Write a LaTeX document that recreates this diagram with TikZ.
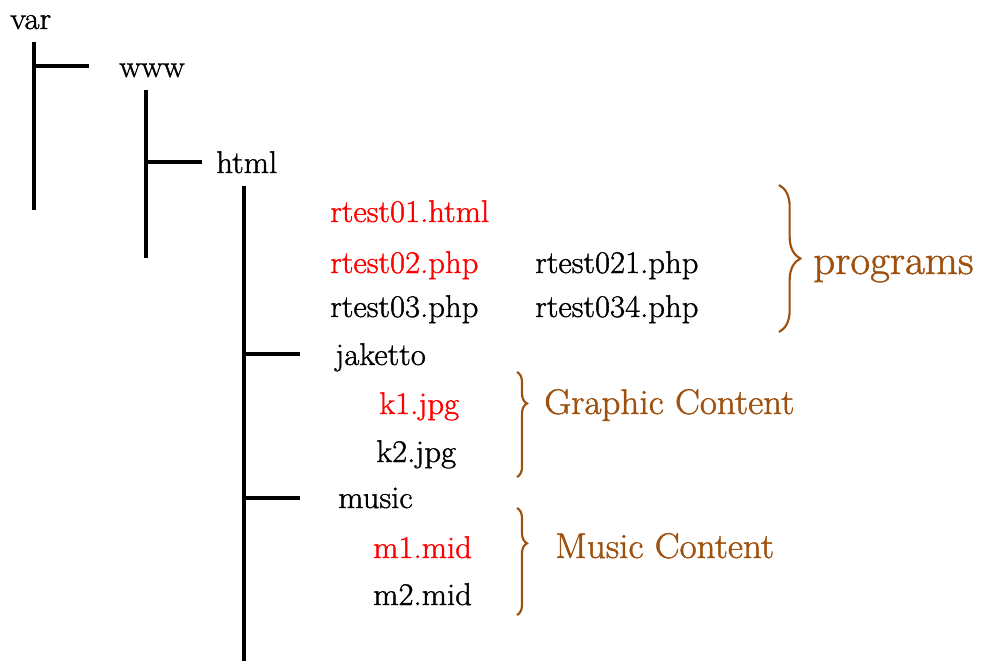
\documentclass[tikz,border=0pt]{standalone}
\usepackage{fontspec}
\usetikzlibrary{decorations.pathreplacing}
\newfontfamily\schoolfont[FakeStretch=1.04,FakeBold=1.2]{Latin Modern Roman}
\definecolor{notebrown}{RGB}{158,80,14}

\begin{document}
\begin{tikzpicture}[x=0.75pt,y=-0.75pt,
    every node/.style={anchor=base west,inner sep=0pt},
    file/.style={font=\schoolfont\fontsize{23.6}{28}\selectfont},
    newfile/.style={file,text=red},
    tree/.style={line width=2.4pt},
    note/.style={font=\schoolfont\fontsize{26.8}{32}\selectfont,text=notebrown},
    group/.style={notebrown,line width=1.6pt,decorate,decoration={brace,amplitude=#1}}]
    \useasboundingbox (0,0) rectangle (982,661);
    \node[file] (var) at (10,29) {var};
    \node[file] (www) at (119,77) {www};
    \node[file] (html) at (216,173) {html};
    \node[newfile] (rtest01) at (330,222) {rtest01.html};
    \node[newfile] (rtest02) at (330,273) {rtest02.php};
    \node[file] (rtest021) at (535,273) {rtest021.php};
    \node[file] (rtest03) at (330,317) {rtest03.php};
    \node[file] (rtest034) at (535,317) {rtest034.php};
    \node[file] (jaketto) at (335,365) {jaketto};
    \node[newfile] (k1) at (379,414) {k1.jpg};
    \node[file] (k2) at (376,462) {k2.jpg};
    \node[file] (music) at (338,508) {music};
    \node[newfile] (m1) at (373,558) {m1.mid};
    \node[file] (m2) at (373,605) {m2.mid};
    \node[note,font=\schoolfont\fontsize{31}{37}\selectfont] (programs) at (813,274) {programs};
    \node[note] (graphic) at (544,414) {Graphic Content};
    \node[note] (musicnote) at (555,558) {Music Content};

    \coordinate (vartop) at (34,42);
    \coordinate (varbot) at (34,210);
    \coordinate (varfork) at (34,66);
    \coordinate (wwwend) at (89,66);
    \coordinate (wwwtop) at (146,90);
    \coordinate (wwwbot) at (146,258);
    \coordinate (wwwfork) at (146,162);
    \coordinate (htmlend) at (202,162);
    \coordinate (htmltop) at (244,186);
    \coordinate (htmlbot) at (244,661);
    \coordinate (jakfork) at (244,354);
    \coordinate (jakend) at (300,354);
    \coordinate (musfork) at (244,498);
    \coordinate (musend) at (300,498);
    \draw[tree] (vartop) -- (varbot);
    \draw[tree] (varfork) -- (wwwend);
    \draw[tree] (wwwtop) -- (wwwbot);
    \draw[tree] (wwwfork) -- (htmlend);
    \draw[tree] (htmltop) -- (htmlbot);
    \draw[tree] (jakfork) -- (jakend);
    \draw[tree] (musfork) -- (musend);

    \coordinate (progtop) at (779,185);
    \coordinate (progbot) at (779,332);
    \coordinate (graptop) at (517,372);
    \coordinate (grapbot) at (517,477);
    \coordinate (mustop) at (517,508);
    \coordinate (musbot) at (517,615);
    \draw[group=16pt] (progtop) -- (progbot);
    \draw[group=7.5pt,decoration={aspect=0.3}] (graptop) -- (grapbot);
    \draw[group=7.5pt,decoration={aspect=0.33}] (mustop) -- (musbot);
\end{tikzpicture}
\end{document}
